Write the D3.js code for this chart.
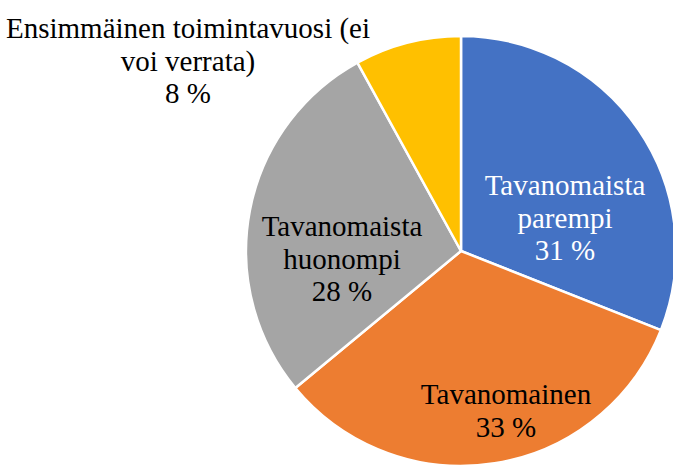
<!DOCTYPE html>
<html>
<head>
<meta charset="utf-8">
<script src="https://cdn.jsdelivr.net/npm/d3@7"></script>
</head>
<body style="margin:0">
<svg id="chart" width="673" height="465"></svg>
<script>
// data
const categories = ["Tavanomaista parempi", "Tavanomainen", "Tavanomaista huonompi", "Ensimmäinen toimintavuosi (ei voi verrata)"];
const values = [31, 33, 28, 8];
const colors = ["#4472C4", "#ED7D31", "#A5A5A5", "#FFC000"];
const labelLines = [
  ["Tavanomaista", "parempi"],
  ["Tavanomainen"],
  ["Tavanomaista", "huonompi"],
  ["Ensimmäinen toimintavuosi (ei", "voi verrata)"]
];
const labelColors = ["#fff", "#000", "#000", "#000"];

const svg = d3.select("#chart");
const cx = 461, cy = 251, r = 215;
const fontSize = 29, lineH = 32.5;

const pie = d3.pie().sort(null).value(d => d)
  .startAngle(0).endAngle(2 * Math.PI);
const arcs = pie(values);

const arc = d3.arc().innerRadius(0).outerRadius(r);

svg.append("g")
  .attr("transform", `translate(${cx},${cy})`)
  .selectAll("path")
  .data(arcs)
  .join("path")
  .attr("d", arc)
  .attr("fill", (d, i) => colors[i])
  .attr("stroke", "#fff")
  .attr("stroke-width", 2.5)
  .attr("stroke-linejoin", "round");

// label centres (Excel "best fit"), relative to pie centre
const labelCentre = [
  [104, -33],
  [45, 160],
  [-119, 8],
  [-273, -190]
];

// one entry per line of text, placed straight on the svg
const labelRows = [];
arcs.forEach((a, i) => {
  const lines = labelLines[i].concat([values[i] + " %"]);
  const [lx, ly] = labelCentre[i];
  const top = ly - (lines.length - 1) * lineH / 2;
  lines.forEach((s, k) => labelRows.push({ s, x: cx + lx, y: cy + top + k * lineH, c: labelColors[i] }));
});

svg.selectAll("text")
  .data(labelRows)
  .join("text")
  .attr("x", d => d.x)
  .attr("y", d => d.y + fontSize * 0.33)
  .attr("text-anchor", "middle")
  .style("font-family", d => `"Liberation Serif"`)
  .style("font-size", fontSize + "px")
  .attr("fill", d => d.c)
  .text(d => d.s);
</script>
</body>
</html>
